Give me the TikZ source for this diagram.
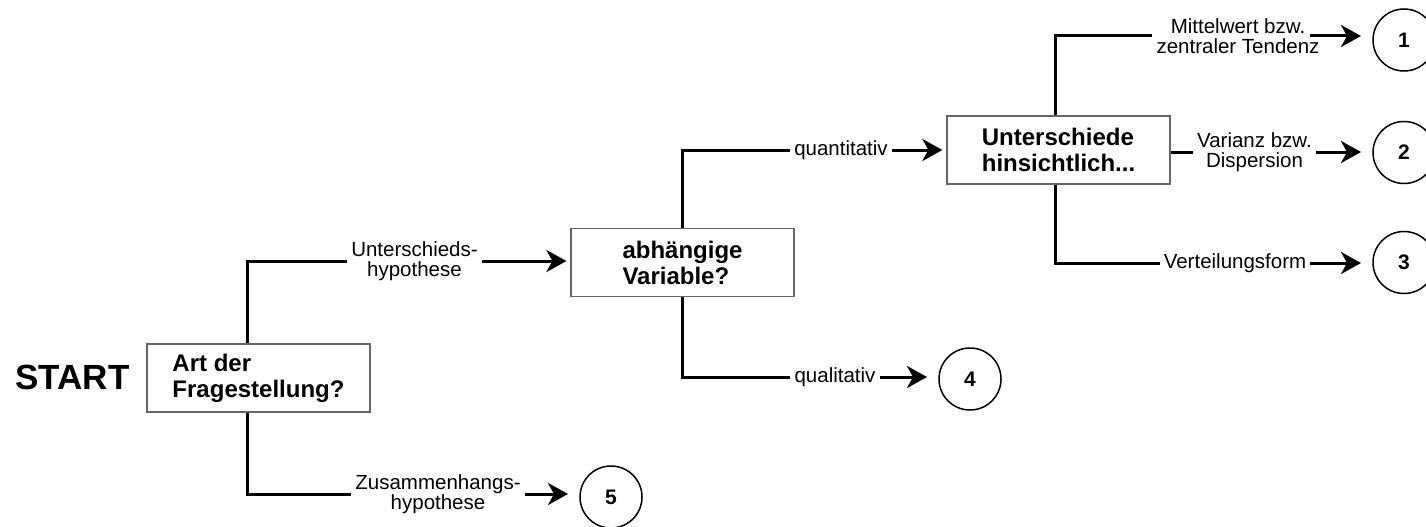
\documentclass[tikz,border=0pt]{standalone}
\usepackage{fontspec}
\setmainfont{Liberation Sans}
\usepackage{tikz}
\usetikzlibrary{arrows.meta, positioning, calc}

\begin{document}
\begin{tikzpicture}[x=1pt, y=-1pt,
    frage/.style={rectangle, draw=black!60, line width=1.2pt, minimum width=223pt, minimum height=68pt, align=left, font=\fontsize{24}{26}\selectfont\bfseries},
    ziel/.style={circle, draw, line width=1.5pt, minimum size=62pt, inner sep=0pt, outer sep=8pt, font=\fontsize{21}{21}\selectfont\bfseries},
    lbl/.style={align=center, inner xsep=4pt, inner ysep=0pt, font=\fontsize{20.5}{19.5}\selectfont},
    ast/.style={draw, line width=3pt},
    pfeil/.style={draw, line width=3pt, shorten >=4pt, -{Stealth[length=20pt, width=22pt, inset=6pt]}}]

    \useasboundingbox (0,0) rectangle (1426,527);

    \node[font=\fontsize{35}{35}\selectfont\bfseries] (start) at (72.5, 377.5) {START};
    \node[frage] (frage) at (258.5, 378) {Art der\\Fragestellung?};
    \node[frage] (abh) at (682.5, 262.5) {abhängige\\Variable?};
    \node[frage] (unter) at (1058.5, 150) {Unterschiede\\hinsichtlich...};

    \node[lbl] (lUnt) at (414.5, 261) {Unterschieds-\\hypothese};
    \node[lbl] (lZus) at (438, 494) {Zusammenhangs-\\hypothese};
    \node[lbl] (lQuant) at (841, 150) {quantitativ};
    \node[lbl] (lQual) at (835, 377) {qualitativ};
    \node[lbl] (lMittel) at (1238, 36) {Mittelwert bzw.\\zentraler Tendenz};
    \node[lbl] (lVar) at (1254.5, 152) {Varianz bzw.\\Dispersion};
    \node[lbl] (lVert) at (1235, 263) {Verteilungsform};

    \node[ziel] (z1) at (1404, 40) {1};
    \node[ziel] (z2) at (1404, 152.5) {2};
    \node[ziel] (z3) at (1404, 262.5) {3};
    \node[ziel] (z4) at (970, 379) {4};
    \node[ziel] (z5) at (611, 497) {5};

    % Art der Fragestellung
    \draw[ast] ([xshift=-11.5pt]frage.north) |- (lUnt.west);
    \draw[ast] ([xshift=-11.5pt]frage.south) |- (lZus.west);
    \draw[pfeil] (lUnt.east) -- (lUnt.east -| abh.west);
    \draw[pfeil] (lZus.east) -- (lZus.east -| z5.west);

    % abhaengige Variable
    \draw[ast] (abh.north) |- (lQuant.west);
    \draw[ast] (abh.south) |- (lQual.west);
    \draw[pfeil] (lQuant.east) -- (lQuant.east -| unter.west);
    \draw[pfeil] (lQual.east) -- (lQual.east -| z4.west);

    % Unterschiede hinsichtlich
    \draw[ast] ([xshift=-3.5pt]unter.north) |- (lMittel.west);
    \draw[ast] (unter.east |- lVar.west) -- (lVar.west);
    \draw[ast] ([xshift=-3.5pt]unter.south) |- (lVert.west);
    \draw[pfeil] (lVert.east |- lMittel.west) -- (lMittel.west -| z1.west);
    \draw[pfeil] (lVar.east) -- (lVar.east -| z2.west);
    \draw[pfeil] (lVert.east) -- (lVert.east -| z3.west);
\end{tikzpicture}
\end{document}
